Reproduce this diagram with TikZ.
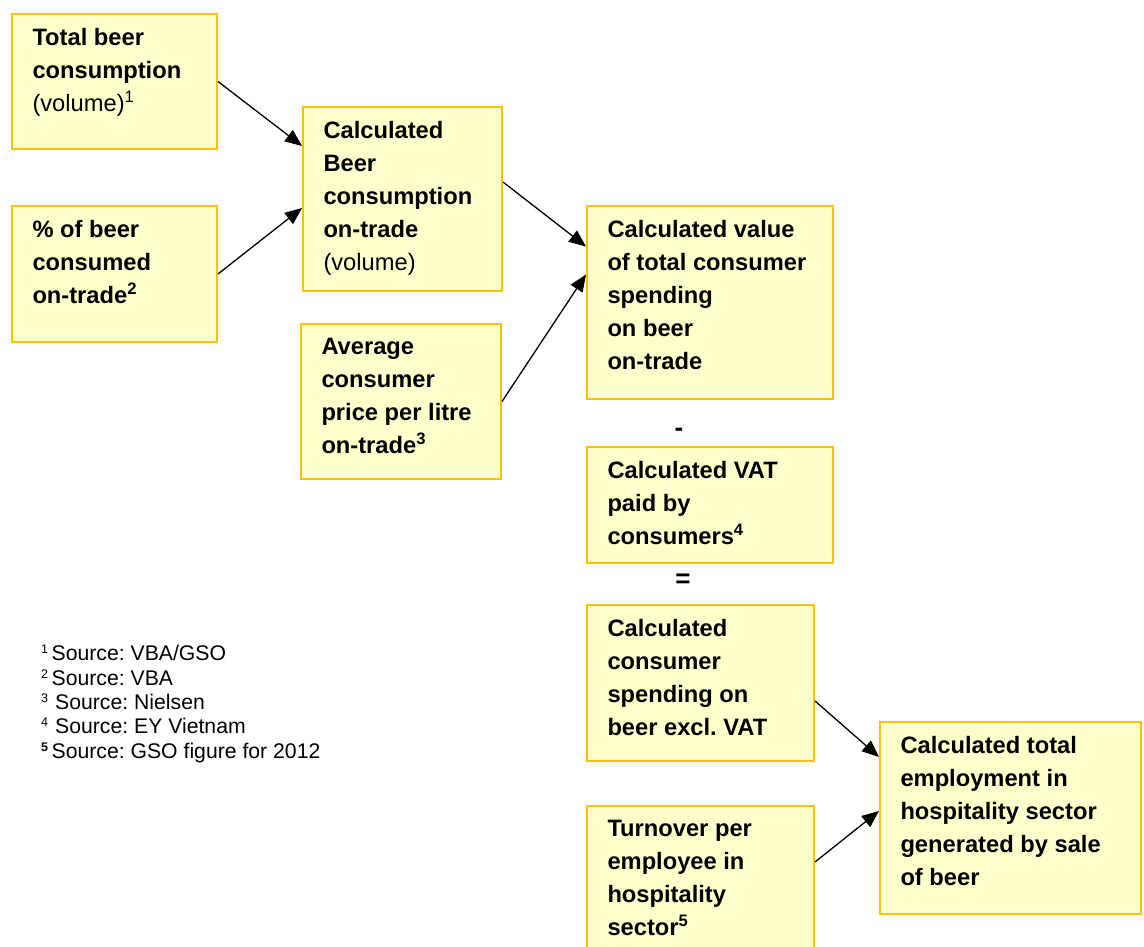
\documentclass[tikz,border=0pt]{standalone}
\usepackage{fontspec}
\setmainfont{Liberation Sans}
\usetikzlibrary{arrows.meta}
\frenchspacing
\definecolor{boxfill}{HTML}{FFFFCC}
\definecolor{boxline}{HTML}{FFC000}
% text block of a box: width, height, lines
\newcommand{\boxtxt}[3]{\parbox[c][#2pt][t]{#1pt}{\raggedright #3}}
\newcommand{\fn}[1]{\textsuperscript{\mdseries #1}}
\newcommand{\fb}[1]{\textsuperscript{#1}}
\newcommand{\nsup}[1]{\raisebox{7pt}{\fontsize{12.5}{12.5}\selectfont #1}}
\tikzset{
  stepbox/.style={draw=boxline, line width=2pt, fill=boxfill, anchor=north west,
    inner xsep=20.5pt, inner ysep=14pt, font=\fontsize{23.7}{33}\selectfont\bfseries},
  flow/.style={line width=1.3pt, -{Triangle[length=17pt,width=14pt]}},
  opsign/.style={font=\fontsize{26}{30}\selectfont\bfseries, inner sep=0pt},
  notes/.style={anchor=north west, inner sep=0pt, align=left,
    font=\fontsize{21.2}{24.3}\selectfont}
}
\begin{document}
\begin{tikzpicture}[x=1pt,y=-1pt]
\clip (0,0) rectangle (1144,947);
\fill[white] (0,0) rectangle (1144,947);

\node[stepbox] (a) at (11,13) {\boxtxt{164}{107}{Total beer\\consumption\\{\mdseries (volume)}\fn{1}}};
\node[stepbox] (b) at (11,205) {\boxtxt{164}{108}{\% of beer\\consumed\\on-trade\fb{2}}};
\node[stepbox] (c) at (302,106) {\boxtxt{158}{156}{Calculated\\Beer\\consumption\\on-trade\\{\mdseries (volume)}}};
\node[stepbox] (d) at (300,323) {\boxtxt{159}{127}{Average\\consumer\\price per litre\\on-trade\fb{3}}};
\node[stepbox] (e) at (586,205) {\boxtxt{205}{165}{Calculated value\\of total consumer\\spending\\on beer\\on-trade}};
\node[stepbox] (f) at (586,446) {\boxtxt{205}{88}{Calculated VAT\\paid by\\consumers\fb{4}}};
\node[stepbox] (g) at (586,604) {\boxtxt{186}{128}{Calculated\\consumer\\spending on\\beer excl. VAT}};
\node[stepbox] (h) at (586,805) {\boxtxt{186}{127}{Turnover per\\employee in\\hospitality\\sector\fb{5}}};
\node[stepbox] (i) at (879,721) {\boxtxt{220}{164}{Calculated total\\employment in\\hospitality sector\\generated by sale\\of beer}};

\node[opsign] (minus) at (679,432) {-};
\node[opsign] (equals) at (683,581) {=};

\draw[flow] (a.east) -- ([yshift=53pt]c.west);
\draw[flow] (b.east) -- ([yshift=-9pt]c.west);
\draw[flow] ([yshift=17pt]c.east) -- ([yshift=56pt]e.west);
\draw[flow] (d.east) -- ([yshift=28pt]e.west);
\draw[flow] ([yshift=-18pt]g.east) -- ([yshift=61pt]i.west);
\draw[flow] ([yshift=-57pt]h.north east) -- ([yshift=7pt]i.west);

\node[notes] (src) at (41,645) {\nsup{1}\,Source: VBA/GSO\\\nsup{2}\,Source: VBA\\\nsup{3}\,\,Source: Nielsen\\\nsup{4}\,\,Source: EY Vietnam\\\nsup{\bfseries 5}\,Source: GSO figure for 2012};
\end{tikzpicture}
\end{document}
